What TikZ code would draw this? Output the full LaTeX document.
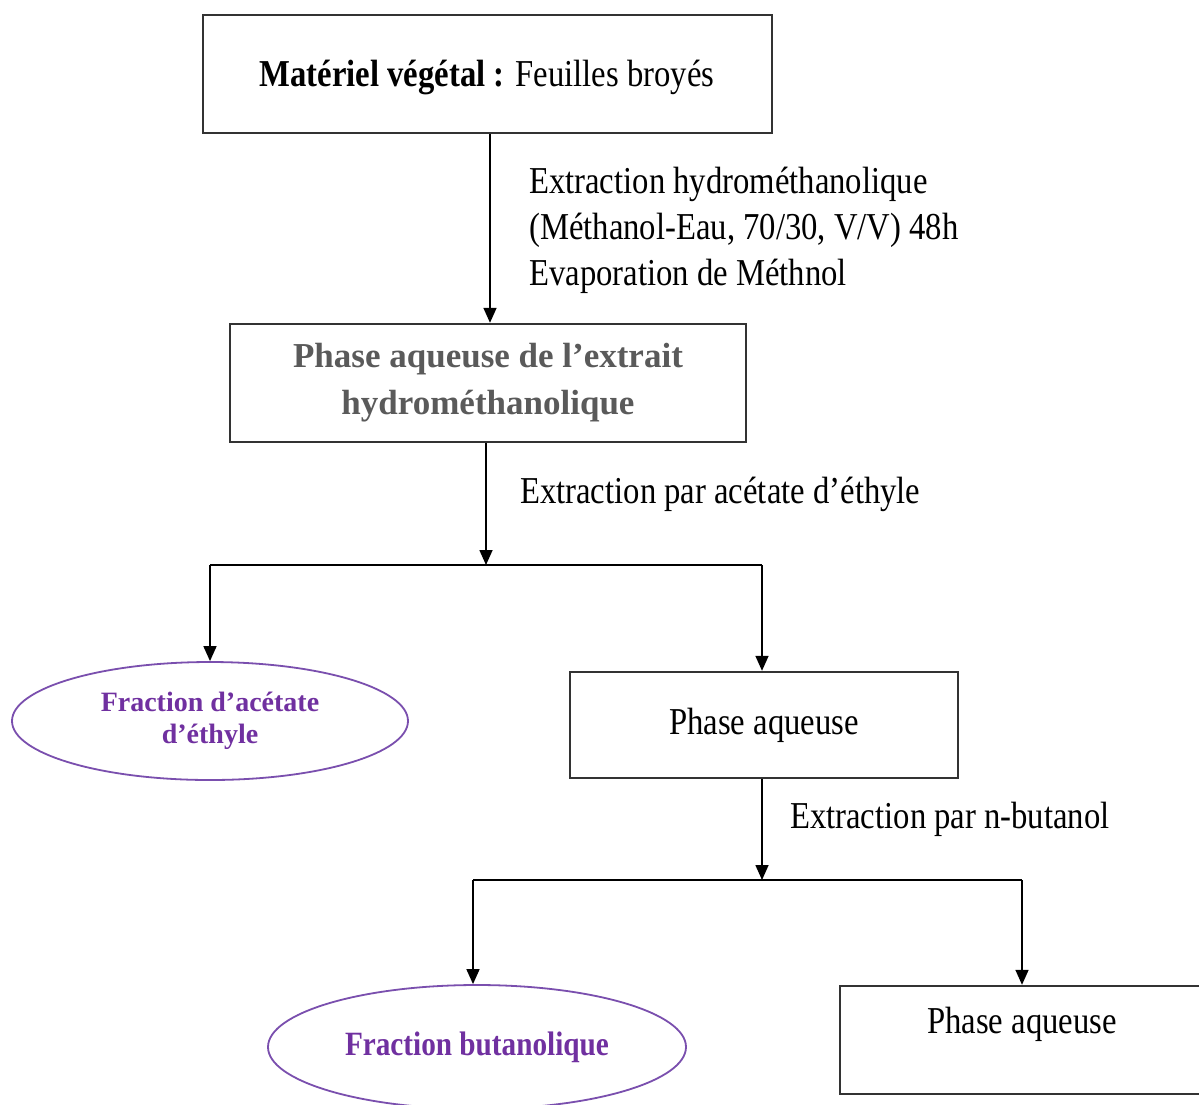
\documentclass[tikz,border=0pt]{standalone}
\usepackage{fontspec}
\setmainfont{Liberation Serif}
\newfontfamily\cond[FakeStretch=0.86]{Liberation Serif}
\usetikzlibrary{arrows.meta,shapes.geometric}
\definecolor{boxline}{HTML}{333333}
\definecolor{purp}{HTML}{7030A0}
\definecolor{purpline}{HTML}{7A4FAE}
\definecolor{graytxt}{HTML}{5A5A5A}
\tikzset{
  box/.style={draw=boxline, line width=2.4pt, rectangle, align=center, inner sep=0pt},
  oval/.style={draw=purpline, line width=1.8pt, ellipse, inner sep=0pt, align=center,
    text=purp, font=\fontsize{28}{32}\selectfont\bfseries},
  ctext/.style={font=\cond\fontsize{38}{46}\selectfont},
  lbl/.style={anchor=west, align=left, inner sep=0pt, ctext},
  arr/.style={line width=1.6pt, -{Triangle[length=15pt,width=13pt]}},
  ln/.style={line width=1.6pt}
}
\begin{document}
\begin{tikzpicture}[x=1pt,y=-1pt]
\useasboundingbox (0,0) rectangle (1199,1104);
\fill[white] (0,0) rectangle (1199,1104);

\node[box, minimum width=569pt, minimum height=118pt] (m) at (487.5,74) {};
\node[ctext, inner sep=0pt] (mt) at (487,77) {\textbf{Matériel végétal :} Feuilles broyés};
\node[box, minimum width=516pt, minimum height=118pt, text=graytxt, font=\fontsize{35}{47}\selectfont\bfseries] (p1) at (488,383)
  {Phase aqueuse de l’extrait\\hydrométhanolique};
\node[oval, minimum width=396pt, minimum height=118pt] (fa) at (210,721)
  {Fraction d’acétate\\d’éthyle};
\node[box, minimum width=388pt, minimum height=106pt, ctext] (p2) at (764,725) {Phase aqueuse};
\node[oval, minimum width=418pt, minimum height=124pt, font=\cond\fontsize{34}{40}\selectfont\bfseries] (fb) at (477,1047) {Fraction butanolique};
\node[box, minimum width=380pt, minimum height=108pt] (p3) at (1030,1040) {};
\node[anchor=center, inner sep=0pt, ctext] (p3t) at (1022,1024) {Phase aqueuse};

\node[lbl] (l1) at (529,230) {Extraction hydrométhanolique\\(Méthanol-Eau, 70/30, V/V) 48h\\Evaporation de Méthnol};
\node[lbl] (l2) at (520,494) {Extraction par acétate d’éthyle};
\node[lbl] (l3) at (790,819) {Extraction par n-butanol};

\coordinate (j1) at (486,565);
\coordinate (j1l) at (210,565);
\coordinate (j1r) at (762,565);
\coordinate (j2) at (762,880);
\coordinate (j2l) at (473,880);
\coordinate (j2r) at (1022,880);

\draw[arr] (m.south -| 490,0) -- (p1.north -| 490,0);
\draw[arr] (p1.south -| j1) -- (j1);
\draw[ln] (j1l) -- (j1r);
\draw[arr] (j1l) -- (fa.north -| j1l);
\draw[arr] (j1r) -- (p2.north -| j1r);
\draw[arr] (p2.south -| j2) -- (j2);
\draw[ln] (j2l) -- (j2r);
\draw[arr] (j2l) -- (fb.north -| j2l);
\draw[arr] (j2r) -- (p3.north -| j2r);
\end{tikzpicture}
\end{document}
